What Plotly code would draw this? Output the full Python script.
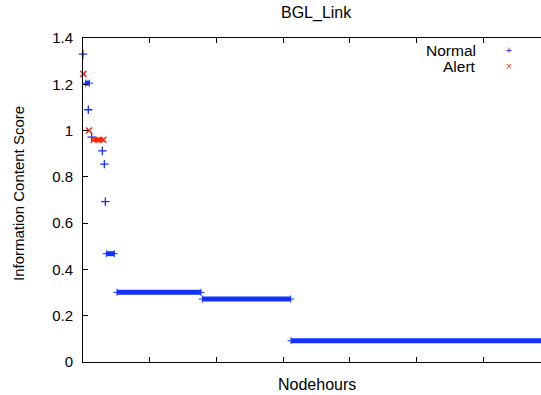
import plotly.graph_objects as go

# ---- data ----
# isolated Normal points: nodehour position, score
normal_x = [0, 80, 130, 290, 320, 335]
normal_y = [1.33, 1.09, 0.972, 0.912, 0.855, 0.693]
# runs of Normal points sharing one score: start, end, score
normal_run_start = [40, 350, 510, 1790, 3120]
normal_run_end = [95, 470, 1770, 3115, 7000]
normal_run_score = [1.205, 0.468, 0.301, 0.272, 0.092]

# Alert points
alert_x = [5, 90]
alert_y = [1.245, 1.0]
alert_run_start = [160]
alert_run_end = [305]
alert_run_score = [0.96]

y_ticks = [0, 0.2, 0.4, 0.6, 0.8, 1.0, 1.2, 1.4]
y_tick_labels = ["0", "0.2", "0.4", "0.6", "0.8", "1", "1.2", "1.4"]

BLUE = "rgb(20,50,255)"
RED = "rgb(250,40,10)"
FONT = "Liberation Sans, Arial, Helvetica, sans-serif"

L, R, T, B = 83, 541, 38, 362  # plot area in page pixels
W, H = 541, 395


def px_x(p):
    return (p - L) / (R - L)


def px_y(p):
    return (B - p) / (B - T)


def run_lines(starts, ends, scores):
    xs, ys = [], []
    for s, e, v in zip(starts, ends, scores):
        xs += [s, e, None]
        ys += [v, v, None]
    return xs, ys


def run_ends(starts, ends, scores):
    xs, ys = [], []
    for s, e, v in zip(starts, ends, scores):
        xs += [s, e]
        ys += [v, v]
    return xs, ys


fig = go.Figure()

nx, ny = run_lines(normal_run_start, normal_run_end, normal_run_score)
fig.add_trace(go.Scatter(x=nx, y=ny, mode="lines", line=dict(color=BLUE, width=5),
                         showlegend=False, hoverinfo="skip"))
ex, ey = run_ends(normal_run_start, normal_run_end, normal_run_score)
fig.add_trace(go.Scatter(x=ex, y=ey, mode="markers",
                         marker=dict(symbol="cross-thin", size=5,
                                     line=dict(color=BLUE, width=1)),
                         cliponaxis=False, name="Normal", showlegend=False))
fig.add_trace(go.Scatter(x=normal_x, y=normal_y, mode="markers",
                         marker=dict(symbol="cross-thin", size=6,
                                     line=dict(color=BLUE, width=1.3)),
                         cliponaxis=False, name="Normal", showlegend=False))

ax, ay = run_lines(alert_run_start, alert_run_end, alert_run_score)
fig.add_trace(go.Scatter(x=ax, y=ay, mode="lines", line=dict(color=RED, width=5),
                         showlegend=False, hoverinfo="skip"))
aex, aey = run_ends(alert_run_start, alert_run_end, alert_run_score)
fig.add_trace(go.Scatter(x=aex + alert_x, y=aey + alert_y, mode="markers",
                         marker=dict(symbol="x-thin", size=6,
                                     line=dict(color=RED, width=1.5)),
                         cliponaxis=False, name="Alert", showlegend=False))

fig.update_layout(
    width=W, height=H,
    margin=dict(l=L, r=W - R, t=T, b=H - B, autoexpand=False),
    plot_bgcolor="white", paper_bgcolor="white",
    font=dict(family=FONT, size=15, color="black"),
    showlegend=False, hovermode=False,
    xaxis=dict(range=[0, 6870], dtick=1000, tick0=0, showticklabels=False,
               ticks="inside", ticklen=5, tickcolor="black", tickwidth=1,
               showline=True, linecolor="black", linewidth=1, mirror="ticks",
               showgrid=False, zeroline=False, automargin=False),
    yaxis=dict(range=[0, 1.4], tickvals=y_ticks, ticktext=y_tick_labels,
               ticks="inside", ticklen=5, tickcolor="black", tickwidth=1,
               ticklabelstandoff=6,
               showline=True, linecolor="black", linewidth=1, mirror=False,
               showgrid=False, zeroline=False, tickfont=dict(size=15),
               automargin=False),
    annotations=[
        dict(text="BGL_Link", xref="paper", yref="paper", x=px_x(316.5), y=px_y(12.7),
             showarrow=False, font=dict(size=16), xanchor="center", yanchor="middle"),
        dict(text="Nodehours", xref="paper", yref="paper", x=px_x(316.5), y=px_y(384),
             showarrow=False, font=dict(size=16), xanchor="center", yanchor="middle"),
        dict(text="Information Content Score", xref="paper", yref="paper", x=px_x(18),
             y=px_y(194), textangle=-90, showarrow=False, font=dict(size=15),
             xanchor="center", yanchor="middle"),
        dict(text="Normal", xref="paper", yref="paper", x=px_x(477.5), y=px_y(50.5),
             showarrow=False, xanchor="right", yanchor="middle", font=dict(size=15.5)),
        dict(text="Alert", xref="paper", yref="paper", x=px_x(477.5), y=px_y(66),
             showarrow=False, xanchor="right", yanchor="middle", font=dict(size=15.5)),
        dict(text="+", xref="paper", yref="paper", x=px_x(508.5), y=px_y(51),
             showarrow=False, xanchor="center", yanchor="middle",
             font=dict(size=10, color=BLUE)),
        dict(text="×", xref="paper", yref="paper", x=px_x(508.5), y=px_y(67),
             showarrow=False, xanchor="center", yanchor="middle",
             font=dict(size=10, color=RED)),
    ],
)

fig.write_html("out.html", config={"displayModeBar": False, "staticPlot": True},
               post_script="document.body.style.margin='0';document.body.style.overflow='hidden';")
